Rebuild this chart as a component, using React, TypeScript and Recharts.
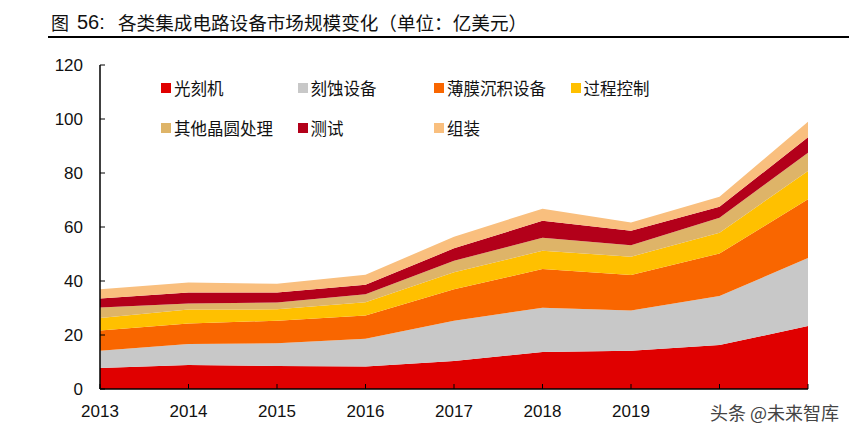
import { AreaChart, Area, XAxis, YAxis, Legend } from "recharts";

const years = ["2013", "2014", "2015", "2016", "2017", "2018", "2019", "2020", "2021"];
const litho = [7.8, 8.9, 8.5, 8.3, 10.4, 13.7, 14.2, 16.3, 23.3];
const etch = [6.4, 7.8, 8.4, 10.3, 14.9, 16.4, 14.9, 18.1, 25.2];
const deposition = [7.5, 7.6, 8.4, 8.6, 11.6, 14.3, 13.1, 15.8, 21.8];
const processControl = [4.6, 5.1, 4.2, 4.9, 6.3, 6.8, 6.8, 7.7, 10.4];
const otherWafer = [3.9, 2.3, 2.5, 3.0, 4.3, 4.8, 4.2, 5.5, 6.8];
const testing = [3.3, 4.0, 3.7, 3.5, 4.6, 6.3, 5.4, 4.1, 5.7];
const assembly = [3.4, 3.7, 3.3, 3.7, 4.3, 4.5, 3.1, 3.7, 5.8];
const yTicks = [0, 20, 40, 60, 80, 100, 120];
const hiddenYearLabels = ["2020", "2021"];

const series = [
    { key: "litho", name: "光刻机", values: litho, color: "#E00000" },
    { key: "etch", name: "刻蚀设备", values: etch, color: "#C8C8C8" },
    { key: "deposition", name: "薄膜沉积设备", values: deposition, color: "#F96600" },
    { key: "processControl", name: "过程控制", values: processControl, color: "#FFC000" },
    { key: "otherWafer", name: "其他晶圆处理", values: otherWafer, color: "#DEB468" },
    { key: "testing", name: "测试", values: testing, color: "#B3001A" },
    { key: "assembly", name: "组装", values: assembly, color: "#F9BF7E" },
];

const data = years.map((year, i) => {
    const row: Record<string, string | number> = { year };
    series.forEach((s) => {
        row[s.key] = s.values[i];
    });
    return row;
});

const font = '"Liberation Sans", Arial, "Noto Sans CJK SC", sans-serif';
const cjk = '"Noto Sans CJK SC", sans-serif';

function LegendBox() {
    return (
        <div style={{ position: "absolute", left: 161, top: 76, width: 600 }}>
            {series.map((s, i) => (
                <div
                    key={s.key}
                    style={{
                        position: "absolute",
                        left: (i % 4) * 136.5,
                        top: Math.floor(i / 4) * 40,
                        display: "flex",
                        alignItems: "center",
                        whiteSpace: "nowrap",
                        fontSize: 16.5,
                        color: "#111",
                        fontFamily: cjk,
                    }}
                >
                    <span style={{ display: "inline-block", width: 10, height: 10, background: s.color, marginRight: 3 }} />
                    {s.name}
                </div>
            ))}
        </div>
    );
}

export default function App() {
    const titleStyle = {
        position: "absolute" as const,
        top: 9,
        color: "#111",
        whiteSpace: "nowrap" as const,
        lineHeight: "26px",
    };
    return (
        <div style={{ position: "absolute", left: 0, top: 0, width: 849, height: 436, background: "#fff", fontFamily: font }}>
            <span style={{ ...titleStyle, left: 51, fontSize: 18, fontFamily: cjk }}>图</span>
            <span style={{ ...titleStyle, left: 77, fontSize: 20, fontFamily: font }}>56:</span>
            <span style={{ ...titleStyle, left: 118, fontSize: 18.6, fontFamily: cjk }}>各类集成电路设备市场规模变化（单位：亿美元）</span>
            <div style={{ position: "absolute", left: 48, top: 36, width: 801, height: 2, background: "#000" }} />

            <AreaChart
                width={849}
                height={436}
                data={data}
                margin={{ top: 65, right: 41, left: 0, bottom: 17 }}
                style={{ position: "absolute", left: 0, top: 0 }}
            >
                <XAxis
                    dataKey="year"
                    axisLine={{ stroke: "#000", strokeWidth: 1.5 }}
                    tickLine={{ stroke: "#000" }}
                    tickSize={-5}
                    tickMargin={21}
                    height={30}
                    interval={0}
                    tick={{ fill: "#111", fontSize: 17, fontFamily: font }}
                    tickFormatter={(v) => (hiddenYearLabels.includes(v) ? "" : v)}
                />
                <YAxis
                    domain={[0, 120]}
                    ticks={yTicks}
                    width={100}
                    axisLine={{ stroke: "#000", strokeWidth: 1.5 }}
                    tickLine={{ stroke: "#000" }}
                    tickSize={-5}
                    tickMargin={22}
                    tick={{ fill: "#111", fontSize: 17, fontFamily: font }}
                />
                <Legend content={() => <LegendBox />} wrapperStyle={{ position: "absolute", left: 0, top: 0, width: 849, height: 0 }} />
                {series.map((s) => (
                    <Area
                        key={s.key}
                        type="linear"
                        dataKey={s.key}
                        name={s.name}
                        stackId="1"
                        stroke="none"
                        fill={s.color}
                        fillOpacity={1}
                        isAnimationActive={false}
                    />
                ))}
            </AreaChart>

            <div
                style={{
                    position: "absolute",
                    left: 710,
                    top: 399,
                    fontSize: 18,
                    color: "#444",
                    fontFamily: cjk,
                    whiteSpace: "nowrap",
                    textShadow: "0 0 2px #fff, 0 0 2px #fff",
                }}
            >
                头条 @未来智库
            </div>
        </div>
    );
}
